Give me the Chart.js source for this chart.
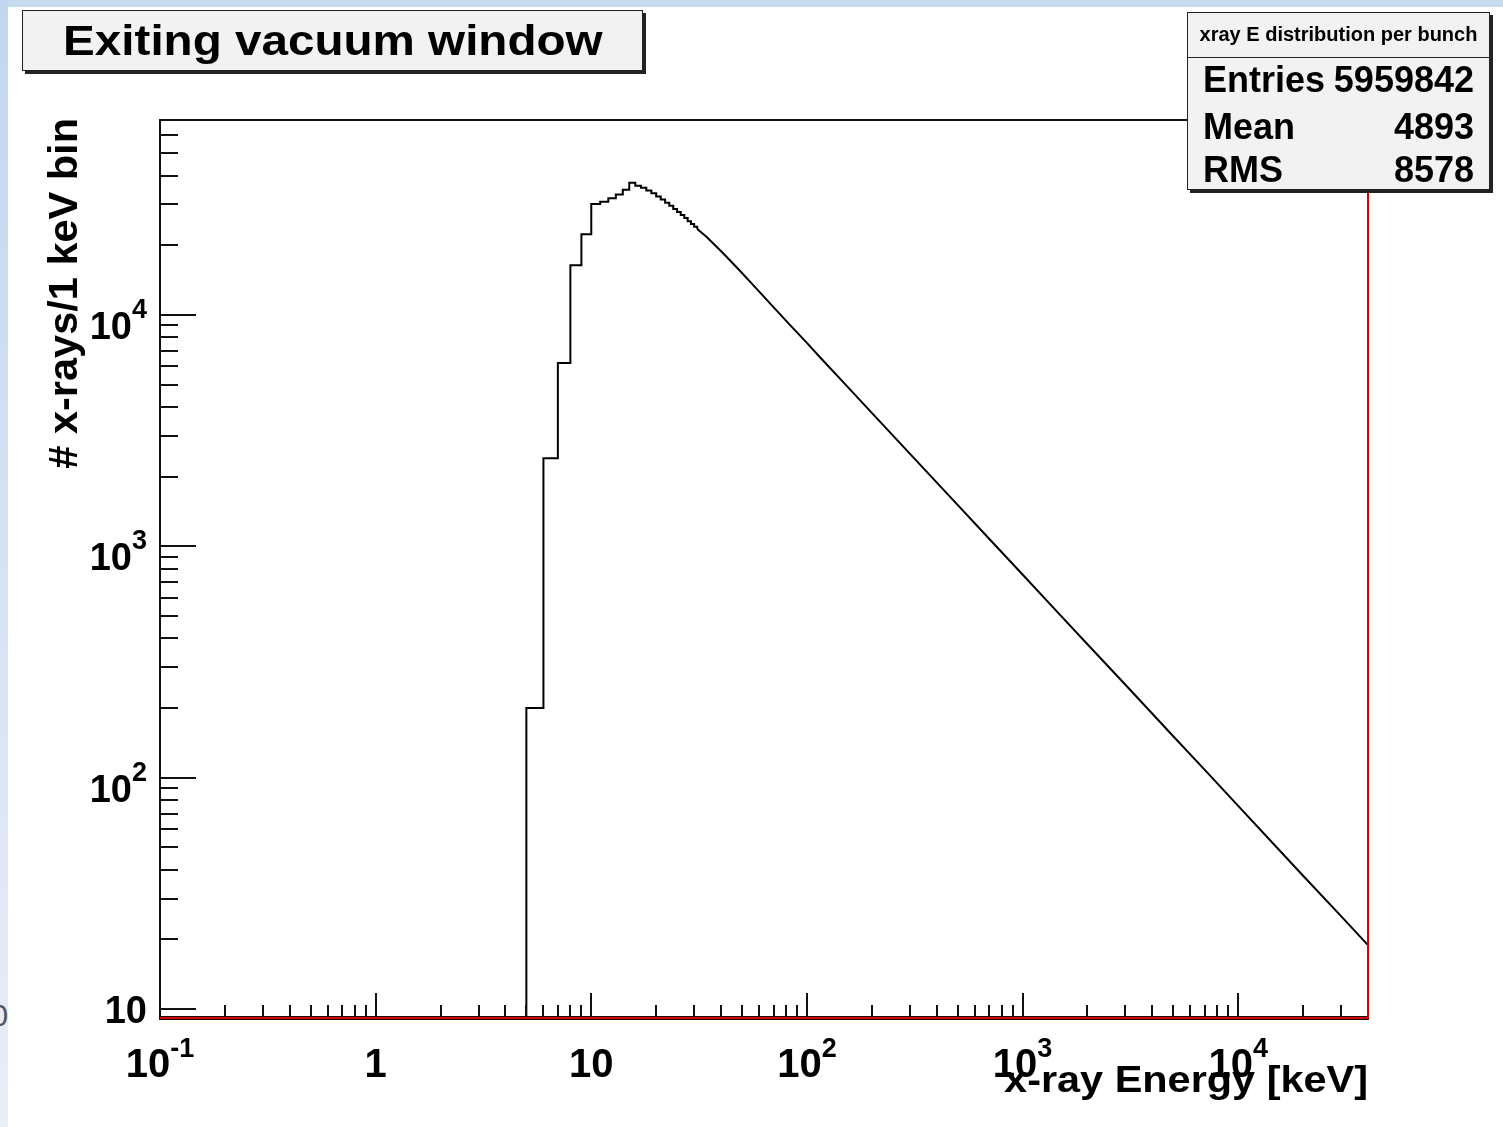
<!DOCTYPE html>
<html><head><meta charset="utf-8">
<script src="https://cdn.jsdelivr.net/npm/chart.js@4"></script>
<style>
html,body{margin:0;padding:0;background:#fff;width:1503px;height:1127px;overflow:hidden;position:relative;font-family:"Liberation Sans",Arial,sans-serif;}
#topstrip{position:absolute;left:0;top:0;width:1503px;height:7px;background:#c5d9ef;}
#leftstrip{position:absolute;left:0;top:0;width:8px;height:1127px;background:linear-gradient(#c2d7ef,#e9eef7);overflow:hidden;}
#stray{position:absolute;left:-9px;top:1000px;font:28px "DejaVu Sans";color:#555;}
#c{position:absolute;left:0;top:0;}
.box{position:absolute;background:#f2f2f2;border:1px solid #222;box-shadow:3px 3px 0 #222;}
#title{left:22px;top:10px;width:619px;height:59px;text-align:center;}
#title span{display:inline-block;font-weight:bold;font-size:42.5px;line-height:59px;transform:scaleX(1.12);transform-origin:center;color:#000;white-space:nowrap;}
#stats{left:1187px;top:12px;width:301px;height:176px;}
#stats .hdr{position:absolute;left:0;top:0;width:301px;height:44px;border-bottom:1px solid #222;text-align:center;font-weight:bold;font-size:20px;line-height:24px;}
#stats .hdr span{position:relative;top:9px;}
#stats .row{position:absolute;left:15px;right:15px;height:40px;font-weight:bold;font-size:36px;line-height:40px;color:#000;}
#stats .row .v{position:absolute;right:0;top:0;}
</style>
</head><body>
<div id="topstrip"></div>
<div id="leftstrip"><div id="stray">0</div></div>
<canvas id="c" width="1503" height="1127"></canvas>
<div class="box" id="title"><span id="titleText"></span></div>
<div class="box" id="stats">
  <div class="hdr"><span id="statsTitle"></span></div>
  <div class="row" style="top:47px"><span id="l0"></span><span class="v" id="v0"></span></div>
  <div class="row" style="top:94px"><span id="l1"></span><span class="v" id="v1"></span></div>
  <div class="row" style="top:137px"><span id="l2"></span><span class="v" id="v2"></span></div>
</div>
<script>
// ---- data ----
const chartTitle = "Exiting vacuum window";
const statsTitle = "xray E distribution per bunch";
const statsLabels = ["Entries", "Mean", "RMS"];
const statsValues = ["5959842", "4893", "8578"];
const xAxisTitle = "x-ray Energy [keV]";
const yAxisTitle = "# x-rays/1 keV bin";

// 1 keV bins (low edge, keV) and contents in the rising / peak region
const binLowEdges = [5,6,7,8,9,10,11,12,13,14,15,16,17,18,19,20,21,22,23,24,25,26,27,28,29,30];
const binCounts   = [200,2400,6200,16400,22300,30100,30800,31900,33100,34700,37200,36100,35400,34500,33500,32500,31500,30500,29600,28700,27800,27000,26200,25400,24700,24000];

// tail of the spectrum (keV, counts)
const tailEnergies = [31,34.3,41,48.9,58.5,69.8,83.4,100,115,150,200,300,500,700,1000,1500,2000,3000,5000,7000,10000,15000,20000,30000,40000];
const tailCounts   = [23500,21700,18400,15500,12950,10830,9050,7570,6560,5030,3770,2515,1510,1078,755,503,377,252,151,108,75.5,50.3,37.7,25.2,18.9];

const xTickValues = [0.1,1,10,100,1000,10000];
const xTickBase   = ["10","1","10","10","10","10"];
const xTickExp    = ["-1","","","2","3","4"];
const yTickValues = [10,100,1000,10000];
const yTickBase   = ["10","10","10","10"];
const yTickExp    = ["","2","3","4"];

const X_MIN = 0.1, X_MAX = 40000, Y_MIN = 9.15, Y_MAX = 69500;

// ---- text in boxes ----
document.getElementById('titleText').textContent = chartTitle;
document.getElementById('statsTitle').textContent = statsTitle;
statsLabels.forEach((l,i)=>{document.getElementById('l'+i).textContent=l;document.getElementById('v'+i).textContent=statsValues[i];});

const stepData = [{x:binLowEdges[0], y:Y_MIN}]
  .concat(binLowEdges.map((e,i)=>({x:e,y:binCounts[i]})))
  .concat([{x:tailEnergies[0], y:tailCounts[0]}]);
const tailData = tailEnergies.map((e,i)=>({x:e,y:tailCounts[i]}));

const FONT = '"Liberation Sans", Arial, sans-serif';

const rootFrame = {
  id:'rootFrame',
  afterDatasetsDraw(chart){
    const ctx = chart.ctx, xs = chart.scales.x, ys = chart.scales.y;
    const a = chart.chartArea;
    const L = Math.round(a.left), R = Math.round(a.right), T = Math.round(a.top), B = Math.round(a.bottom);
    ctx.save();
    // frame
    ctx.strokeStyle = '#111'; ctx.lineWidth = 2;
    ctx.beginPath();
    ctx.moveTo(L, B); ctx.lineTo(L, T); ctx.lineTo(R, T);
    ctx.stroke();
    // y ticks (inside)
    ctx.lineWidth = 2; ctx.strokeStyle = '#111';
    for (let e = Math.floor(Math.log10(Y_MIN)); e <= Math.ceil(Math.log10(Y_MAX)); e++) {
      for (let m = 1; m <= 9; m++) {
        const v = m * Math.pow(10, e);
        if (v < Y_MIN || v > Y_MAX) continue;
        const y = Math.round(ys.getPixelForValue(v));
        const len = m === 1 ? 36 : 18;
        ctx.beginPath(); ctx.moveTo(L, y); ctx.lineTo(L + len, y); ctx.stroke();
      }
    }
    // x ticks (inside)
    for (let e = Math.floor(Math.log10(X_MIN)); e <= Math.ceil(Math.log10(X_MAX)); e++) {
      for (let m = 1; m <= 9; m++) {
        const v = m * Math.pow(10, e);
        if (v < X_MIN * 1.0001 || v > X_MAX) continue;
        const x = Math.round(xs.getPixelForValue(v));
        const len = m === 1 ? 25 : 13;
        ctx.beginPath(); ctx.moveTo(x, B); ctx.lineTo(x, B - len); ctx.stroke();
      }
    }
    // bottom frame (black under red) and red lines
    ctx.strokeStyle = '#111'; ctx.lineWidth = 4;
    ctx.beginPath(); ctx.moveTo(L-1, B); ctx.lineTo(R+1, B); ctx.stroke();
    ctx.strokeStyle = '#e00000'; ctx.lineWidth = 2;
    ctx.beginPath(); ctx.moveTo(L, B); ctx.lineTo(R, B); ctx.lineTo(R, T); ctx.stroke();

    // tick labels
    ctx.fillStyle = '#000';
    ctx.textBaseline = 'alphabetic';
    xTickValues.forEach((v,i)=>{
      const x = xs.getPixelForValue(v);
      ctx.font = 'bold 40px ' + FONT;
      const bw = ctx.measureText(xTickBase[i]).width;
      ctx.font = 'bold 27px ' + FONT;
      const ew = xTickExp[i] ? ctx.measureText(xTickExp[i]).width : 0;
      const x0 = x - (bw + ew) / 2;
      ctx.textAlign = 'left';
      ctx.font = 'bold 40px ' + FONT;
      ctx.fillText(xTickBase[i], x0, B + 59);
      if (ew) { ctx.font = 'bold 27px ' + FONT; ctx.fillText(xTickExp[i], x0 + bw, B + 39); }
    });
    yTickValues.forEach((v,i)=>{
      const y = ys.getPixelForValue(v);
      const xr = L - 13;
      ctx.textAlign = 'right';
      if (yTickExp[i]) {
        ctx.font = 'bold 27px ' + FONT;
        const ew = ctx.measureText(yTickExp[i]).width;
        ctx.fillText(yTickExp[i], xr, y + 3);
        ctx.font = 'bold 38px ' + FONT;
        ctx.fillText(yTickBase[i], xr - ew, y + 24);
      } else {
        ctx.font = 'bold 38px ' + FONT;
        ctx.fillText(yTickBase[i], xr, y + 14);
      }
    });
    // axis titles
    ctx.save();
    ctx.translate(R, B + 74);
    ctx.scale(1.12, 1);
    ctx.font = 'bold 37px ' + FONT;
    ctx.textAlign = 'right';
    ctx.fillText(xAxisTitle, 0, 0);
    ctx.restore();
    ctx.save();
    ctx.translate(77, T - 2);
    ctx.rotate(-Math.PI/2);
    ctx.font = 'bold 41.5px ' + FONT;
    ctx.textAlign = 'right';
    ctx.fillText(yAxisTitle, 0, 0);
    ctx.restore();
    ctx.restore();
  }
};

new Chart(document.getElementById('c'), {
  type: 'line',
  data: {
    datasets: [
      {data: stepData, stepped: 'before', borderColor: '#000', borderWidth: 2, pointRadius: 0, fill: false, tension: 0},
      {data: tailData, borderColor: '#000', borderWidth: 2, pointRadius: 0, fill: false, tension: 0}
    ]
  },
  options: {
    responsive: false, animation: false, devicePixelRatio: 1,
    parsing: true,
    layout: {padding: {left: 0, top: 120, right: 135, bottom: 0}},
    plugins: {legend: {display: false}, tooltip: {enabled: false}},
    scales: {
      x: {type: 'logarithmic', min: X_MIN, max: X_MAX, ticks: {display: false}, grid: {display: false}, border: {display: false},
          afterFit(s){ s.height = 109; }},
      y: {type: 'logarithmic', min: Y_MIN, max: Y_MAX, ticks: {display: false}, grid: {display: false}, border: {display: false},
          afterFit(s){ s.width = 160; }}
    }
  },
  plugins: [rootFrame]
});
</script>
</body></html>
